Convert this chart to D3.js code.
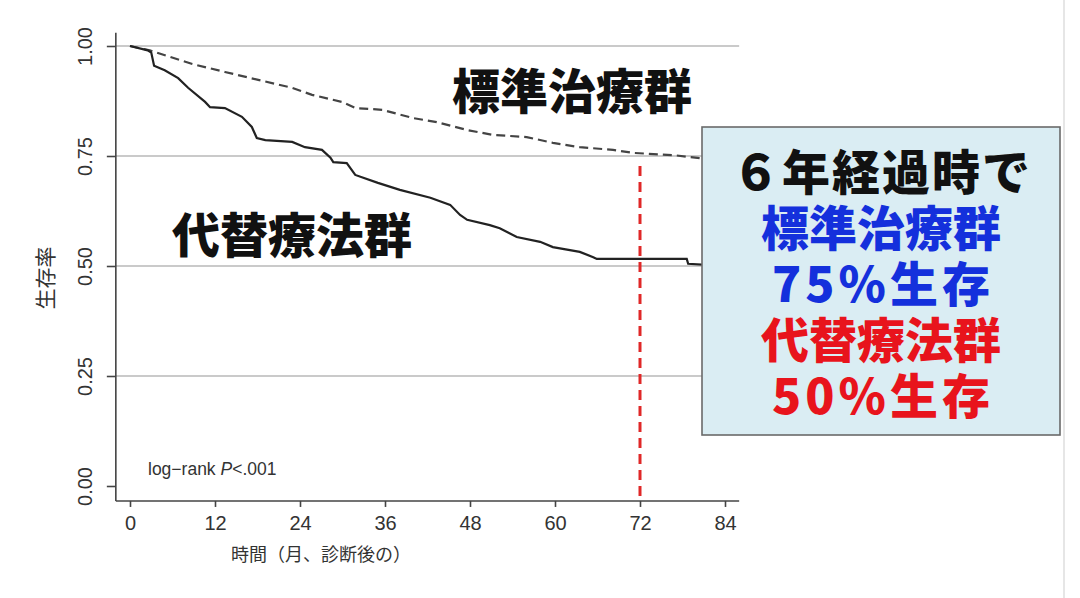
<!DOCTYPE html>
<html>
<head>
<meta charset="utf-8">
<script src="https://cdn.jsdelivr.net/npm/d3@7"></script>
<style>
  html, body { margin: 0; padding: 0; background: #fff; }
  svg { display: block; }
</style>
</head>
<body>
<div id="chart"></div>
<script>
// 標準治療群 (dashed) — months / survival
const standardMonths = [0, 2.8, 8.8, 13.4, 18.1, 22.9, 25.7, 29.9, 31.8, 35.6, 40, 43.3, 47.6, 51.2, 56, 59.7, 63.5, 68.2, 71, 76.7, 80.5, 86];
const standardSurv   = [1.0, 0.99, 0.959, 0.941, 0.923, 0.905, 0.889, 0.873, 0.859, 0.855, 0.836, 0.827, 0.809, 0.798, 0.793, 0.78, 0.77, 0.764, 0.757, 0.752, 0.745, 0.745];

// 代替療法群 (solid)
const altMonths = [0, 2.5, 3.0, 3.4, 4.9, 6.8, 8.2, 10.6, 11.3, 13.4, 15.8, 17.2, 17.9, 19.1, 22.9, 24.7, 27.1, 28.3, 28.7, 30.6, 31.8, 35, 38.1, 42.4, 45.2, 46.6, 47.6, 50.8, 52.2, 54.6, 57.9, 59.7, 63.5, 65.4, 65.9, 78.6, 78.8, 82];
const altSurv   = [1.0, 0.99, 0.985, 0.955, 0.945, 0.927, 0.905, 0.873, 0.861, 0.859, 0.839, 0.816, 0.791, 0.786, 0.782, 0.770, 0.764, 0.746, 0.736, 0.734, 0.707, 0.689, 0.673, 0.655, 0.639, 0.616, 0.605, 0.593, 0.586, 0.566, 0.555, 0.543, 0.532, 0.52, 0.516, 0.516, 0.505, 0.502];

const xTicks = [0, 12, 24, 36, 48, 60, 72, 84];
const yTicks = [0, 0.25, 0.5, 0.75, 1.0];
const markMonth = 72;

const boxLines = [
    { text: '６年経過時で', color: '#111111', spacing: 2 },
    { text: '標準治療群', color: '#1430dc', spacing: 0 },
    { text: '75%生存', color: '#1430dc', spacing: 4 },
    { text: '代替療法群', color: '#e8141c', spacing: 0 },
    { text: '50%生存', color: '#e8141c', spacing: 4 }
];

const W = 1080, H = 598;
const cjk = '"Noto Sans CJK JP", "Noto Sans", sans-serif';
const latin = '"Liberation Sans", Arial, sans-serif';

const svg = d3.select('#chart').append('svg')
    .attr('width', W)
    .attr('height', H);

const x = d3.scaleLinear().domain([0, 84]).range([130, 725]);
const y = d3.scaleLinear().domain([0, 1]).range([486, 46]);

const x0 = x(-2), x1 = x(86);
const yBottom = y(-0.034), yTop = y(1.03);

// Gridlines
svg.append('g')
    .selectAll('line')
    .data(yTicks.filter(d => d > 0))
    .join('line')
    .attr('x1', x0).attr('x2', x1)
    .attr('y1', d => y(d)).attr('y2', d => y(d))
    .attr('stroke', '#b8b8b8')
    .attr('stroke-width', 1.6);

// Y axis
const yAxis = svg.append('g')
    .attr('transform', `translate(${x0},0)`)
    .call(d3.axisLeft(y).tickValues(yTicks).tickFormat(d3.format('.2f')).tickSize(9).tickSizeOuter(0));
yAxis.select('.domain').attr('d', `M0,${yTop}V${yBottom}`);
yAxis.selectAll('line, path').attr('stroke', '#444').attr('stroke-width', 1.6);
yAxis.selectAll('text')
    .attr('transform', 'translate(-31,0) rotate(-90)')
    .attr('x', 0).attr('y', 0).attr('dy', '0.35em')
    .attr('text-anchor', 'middle')
    .style('font-family', latin)
    .style('font-size', '20px')
    .style('fill', '#333');

// X axis
const xAxis = svg.append('g')
    .attr('transform', `translate(0,${yBottom})`)
    .call(d3.axisBottom(x).tickValues(xTicks).tickSize(6).tickSizeOuter(0));
xAxis.select('.domain').attr('d', `M${x0},0H${x1}`);
xAxis.selectAll('line, path').attr('stroke', '#444').attr('stroke-width', 1.6);
xAxis.selectAll('text')
    .attr('y', 15)
    .style('font-family', latin)
    .style('font-size', '20px')
    .style('fill', '#333');

// Axis titles
svg.append('text')
    .attr('transform', `translate(46,278) rotate(-90)`)
    .attr('text-anchor', 'middle')
    .attr('dy', '0.35em')
    .style('font-family', cjk)
    .style('font-size', '21px')
    .style('fill', '#333')
    .text('生存率');

svg.append('text')
    .attr('x', 321).attr('y', 555)
    .attr('text-anchor', 'middle')
    .attr('dy', '0.35em')
    .style('font-family', cjk)
    .style('font-size', '18px')
    .style('fill', '#333')
    .text('時間（月、診断後の）');

// Curves
const line = d3.line()
    .x(d => x(d[0]))
    .y(d => y(d[1]));

svg.append('path')
    .datum(standardMonths.map((m, i) => [m, standardSurv[i]]))
    .attr('d', line)
    .attr('fill', 'none')
    .attr('stroke', '#444')
    .attr('stroke-width', 2.2)
    .attr('stroke-dasharray', '9,5');

svg.append('path')
    .datum(altMonths.map((m, i) => [m, altSurv[i]]))
    .attr('d', line)
    .attr('fill', 'none')
    .attr('stroke', '#222')
    .attr('stroke-width', 2.2);

// 72-month marker
svg.append('line')
    .attr('x1', x(markMonth)).attr('x2', x(markMonth))
    .attr('y1', 166).attr('y2', yBottom)
    .attr('stroke', '#e02828')
    .attr('stroke-width', 3)
    .attr('stroke-dasharray', '10,6');

// log-rank text
const lr = svg.append('text')
    .attr('x', 148).attr('y', 469)
    .attr('dy', '0.35em')
    .style('font-family', latin)
    .style('font-size', '17.5px')
    .style('fill', '#333');
lr.append('tspan').text('log\u2212rank ');
lr.append('tspan').style('font-style', 'italic').text('P');
lr.append('tspan').text('<.001');

// Group labels
svg.append('text')
    .attr('x', 572).attr('y', 92)
    .attr('text-anchor', 'middle')
    .attr('dy', '0.35em')
    .style('font-family', cjk)
    .style('font-weight', 900)
    .style('font-size', '48px')
    .style('fill', '#111')
    .text('標準治療群');

svg.append('text')
    .attr('x', 292).attr('y', 236)
    .attr('text-anchor', 'middle')
    .attr('dy', '0.35em')
    .style('font-family', cjk)
    .style('font-weight', 900)
    .style('font-size', '48px')
    .style('fill', '#111')
    .text('代替療法群');

// Callout box
svg.append('rect')
    .attr('x', 702).attr('y', 127)
    .attr('width', 358).attr('height', 308)
    .attr('fill', '#daedf3')
    .attr('stroke', '#6a6a6a')
    .attr('stroke-width', 1.6);

svg.append('g')
    .selectAll('text')
    .data(boxLines)
    .join('text')
    .attr('x', d => 881 + d.spacing / 2)
    .attr('y', (d, i) => 173 + i * 56)
    .attr('text-anchor', 'middle')
    .attr('dy', '0.35em')
    .style('font-family', cjk)
    .style('font-weight', 900)
    .style('font-size', '48px')
    .style('letter-spacing', d => d.spacing + 'px')
    .style('fill', d => d.color)
    .text(d => d.text);

// faint slide edge on the right
svg.append('line')
    .attr('x1', 1064).attr('x2', 1064)
    .attr('y1', 0).attr('y2', H)
    .attr('stroke', '#e6e6e6')
    .attr('stroke-width', 2);
</script>
</body>
</html>
